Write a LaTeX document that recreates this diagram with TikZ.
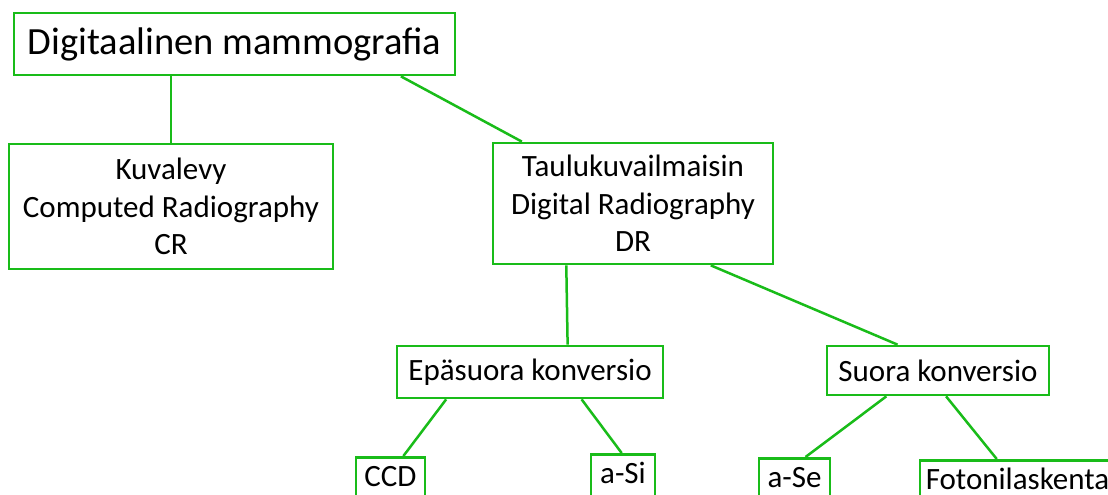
\documentclass[tikz,border=0pt]{standalone}
\usepackage{fontspec}
\setmainfont{Carlito}
\usetikzlibrary{calc}
\definecolor{boxgreen}{RGB}{25,188,25}
\tikzset{
  box/.style={draw=boxgreen, line width=2.7pt, fill=white, align=center, inner sep=0pt,
    font=\fontsize{31}{37.5}\selectfont},
  leaf/.style={box, anchor=north, text height=29pt, text depth=31pt},
  link/.style={draw=boxgreen, line width=2.5pt}
}
\begin{document}
\begin{tikzpicture}[x=1pt,y=-1pt]
	\useasboundingbox (0,0) rectangle (1108,495);
	\clip (0,0) rectangle (1108,495);
	\fill[white] (0,0) rectangle (1108,495);

	\node[box, minimum width=441pt, minimum height=62pt, font=\fontsize{38.5}{44}\selectfont] (dm) at (234.5,44) {Digitaalinen mammografia};

	\node[box, minimum width=324pt, minimum height=125pt] (cr) at (171,206.5) {Kuvalevy\\Computed Radiography\\CR};
	\node[box, minimum width=280pt, minimum height=121pt] (dr) at (633,203.5) {Taulukuvailmaisin\\Digital Radiography\\DR};

	\node[box, minimum width=266pt, minimum height=52pt] (epa) at (530,372) {Epäsuora konversio};
	\node[box, minimum width=222pt, minimum height=49pt] (suo) at (938,370.5) {Suora konversio};

	\node[leaf, minimum width=69pt] (ccd) at (390.5,456) {CCD};
	\node[leaf, minimum width=64pt] (asi) at (623,453) {a-Si};
	\node[leaf, minimum width=71pt] (ase) at (794.5,457) {a-Se};
	\node[leaf, minimum width=195pt] (foto) at (1017.5,459) {Fotonilaskenta};

	\draw[link] (cr.north) -- (cr.north |- dm.south);
	\draw[link] ($(dm.south west)!.875!(dm.south east)$) -- ($(dr.north west)!.107!(dr.north east)$);

	\draw[link] ($(dr.south west)!.264!(dr.south east)$) -- ($(epa.north west)!.64!(epa.north east)$);
	\draw[link] ($(dr.south west)!.775!(dr.south east)$) -- ($(suo.north west)!.32!(suo.north east)$);

	\draw[link] ($(epa.south west)!.188!(epa.south east)$) -- ($(ccd.north west)!.68!(ccd.north east)$);
	\draw[link] ($(epa.south west)!.692!(epa.south east)$) -- ($(asi.north west)!.48!(asi.north east)$);

	\draw[link] ($(suo.south west)!.27!(suo.south east)$) -- ($(ase.north west)!.65!(ase.north east)$);
	\draw[link] ($(suo.south west)!.536!(suo.south east)$) -- ($(foto.north west)!.395!(foto.north east)$);
\end{tikzpicture}
\end{document}
